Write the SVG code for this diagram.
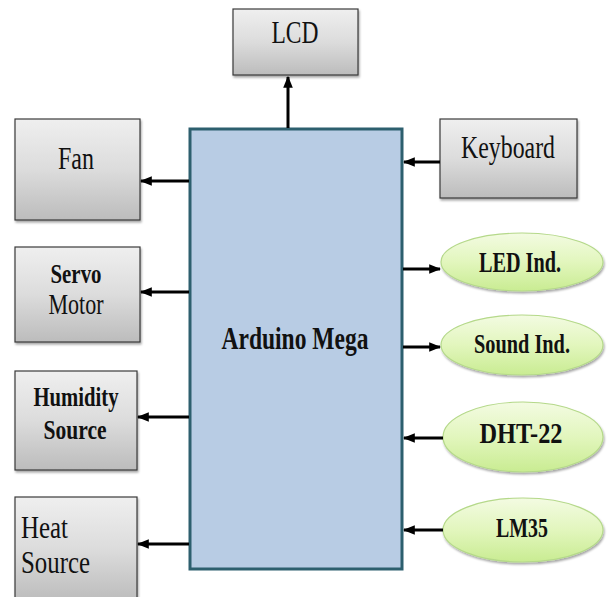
<svg xmlns="http://www.w3.org/2000/svg" width="610" height="597" viewBox="0 0 610 597">
<defs>
<linearGradient id="gray" x1="0" y1="0" x2="0" y2="1">
<stop offset="0" stop-color="#efefef"/>
<stop offset="0.5" stop-color="#dcdcdc"/>
<stop offset="1" stop-color="#bcbcbc"/>
</linearGradient>
<linearGradient id="green" x1="0" y1="0" x2="0" y2="1">
<stop offset="0" stop-color="#f3fbe2"/>
<stop offset="0.5" stop-color="#e2f6bd"/>
<stop offset="1" stop-color="#c9ec92"/>
</linearGradient>
<marker id="ah" viewBox="0 0 10 10" refX="9" refY="5" markerWidth="4" markerHeight="4" orient="auto" markerUnits="strokeWidth">
<path d="M0,1 L10,5 L0,9 z" fill="#000"/>
</marker>
<filter id="sh" x="-10%" y="-10%" width="130%" height="130%">
<feDropShadow dx="1" dy="2" stdDeviation="1" flood-color="#000" flood-opacity="0.35"/>
</filter>
</defs>
<style>
.box{fill:url(#gray);stroke:#3a3a3a;stroke-width:1.2;filter:url(#sh)}
.ell{fill:url(#green);stroke:#b5d98a;stroke-width:1.2;filter:url(#sh)}
.main{fill:#b8cce4;stroke:#2d5f6e;stroke-width:3}
text{font-family:'Liberation Serif','DejaVu Serif','Times New Roman',serif;fill:#111;text-anchor:middle}
.b{font-weight:bold}
.s{text-anchor:start}
.conn line{stroke:#000;stroke-width:3;marker-end:url(#ah)}
</style>

<g id="main-arduino">
<rect class="main" x="190" y="129" width="212" height="440"/>
<text class="b" x="295" y="349" font-size="31" textLength="147" lengthAdjust="spacingAndGlyphs">Arduino Mega</text>
</g>

<g id="lcd">
<rect class="box" x="233" y="9" width="125" height="66"/>
<text x="295" y="43" font-size="32" textLength="47" lengthAdjust="spacingAndGlyphs">LCD</text>
</g>

<g id="fan">
<rect class="box" x="15" y="119" width="125" height="101"/>
<text x="76" y="169" font-size="32" textLength="36" lengthAdjust="spacingAndGlyphs">Fan</text>
</g>

<g id="keyboard">
<rect class="box" x="440" y="119" width="137" height="79"/>
<text x="508" y="158" font-size="31" textLength="94" lengthAdjust="spacingAndGlyphs">Keyboard</text>
</g>

<g id="servo-motor">
<rect class="box" x="15" y="247" width="125" height="95"/>
<text class="b" x="76" y="283" font-size="27" textLength="51" lengthAdjust="spacingAndGlyphs">Servo</text>
<text x="76" y="314" font-size="29" textLength="55" lengthAdjust="spacingAndGlyphs">Motor</text>
</g>

<g id="humidity-source">
<rect class="box" x="15" y="371" width="122" height="99"/>
<text class="b" x="76" y="406" font-size="28" textLength="85" lengthAdjust="spacingAndGlyphs">Humidity</text>
<text class="b" x="75" y="439" font-size="27" textLength="63" lengthAdjust="spacingAndGlyphs">Source</text>
</g>

<g id="heat-source">
<rect class="box" x="15" y="497" width="122" height="104"/>
<text class="s" x="21" y="538" font-size="32" textLength="47" lengthAdjust="spacingAndGlyphs">Heat</text>
<text class="s" x="21" y="573" font-size="32" textLength="69" lengthAdjust="spacingAndGlyphs">Source</text>
</g>

<g id="led-ind">
<ellipse class="ell" cx="522" cy="262" rx="81" ry="29"/>
<text class="b" x="520" y="272" font-size="29" textLength="82" lengthAdjust="spacingAndGlyphs">LED Ind.</text>
</g>

<g id="sound-ind">
<ellipse class="ell" cx="522" cy="345" rx="81" ry="30"/>
<text class="b" x="522" y="353" font-size="28" textLength="96" lengthAdjust="spacingAndGlyphs">Sound Ind.</text>
</g>

<g id="dht-22">
<ellipse class="ell" cx="523" cy="437" rx="80" ry="35"/>
<text class="b" x="521" y="443" font-size="30" textLength="83" lengthAdjust="spacingAndGlyphs">DHT-22</text>
</g>

<g id="lm35">
<ellipse class="ell" cx="523" cy="530" rx="80" ry="32"/>
<text class="b" x="522" y="537" font-size="28" textLength="52" lengthAdjust="spacingAndGlyphs">LM35</text>
</g>

<g id="connectors" class="conn">
<line x1="288" y1="128" x2="288" y2="77"/>
<line x1="189" y1="181" x2="141" y2="181"/>
<line x1="440" y1="162" x2="404" y2="162"/>
<line x1="189" y1="292" x2="141" y2="292"/>
<line x1="189" y1="417" x2="138" y2="417"/>
<line x1="189" y1="544" x2="138" y2="544"/>
<line x1="403" y1="269" x2="440" y2="269"/>
<line x1="403" y1="347" x2="440" y2="347"/>
<line x1="443" y1="438" x2="404" y2="438"/>
<line x1="443" y1="530" x2="404" y2="530"/>
</g>
</svg>
